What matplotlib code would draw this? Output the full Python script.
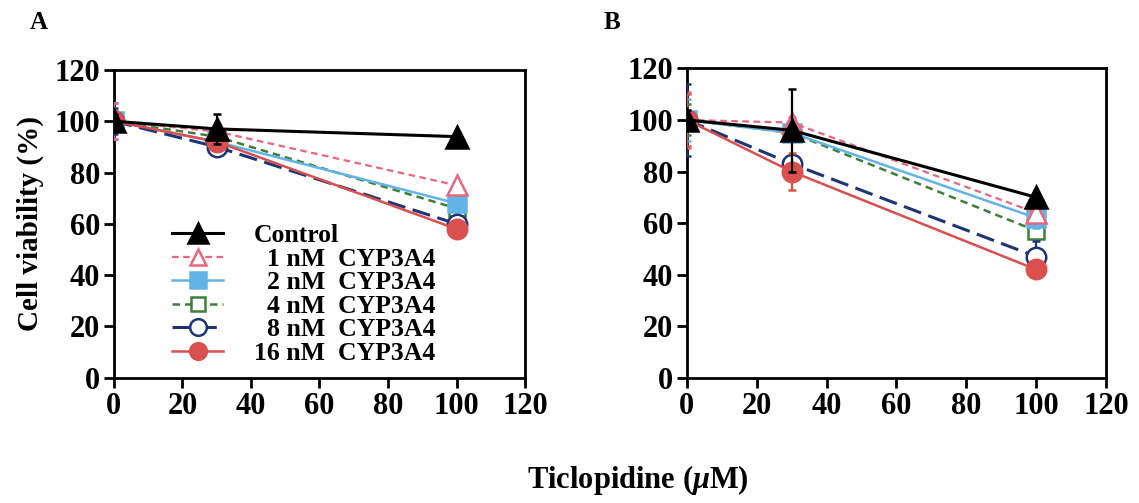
import matplotlib
matplotlib.use("Agg")
import matplotlib.pyplot as plt
from matplotlib.lines import Line2D

plt.rcParams['font.family'] = ['Liberation Serif', 'DejaVu Serif']
plt.rcParams['font.weight'] = 'bold'
plt.rcParams['mathtext.fontset'] = 'custom'
plt.rcParams['mathtext.rm'] = 'Liberation Serif:bold'
plt.rcParams['mathtext.it'] = 'Liberation Serif:italic:bold'

# ticlopidine concentrations (uM)
conc = [0, 30, 100]

labels = ["Control", "  1 nM  CYP3A4", "  2 nM  CYP3A4", "  4 nM  CYP3A4",
          "  8 nM  CYP3A4", "16 nM  CYP3A4"]

# panel A: viability (%) and SD
ctrl_a = [100, 97, 94]
n1_a = [100, 96, 75]
n2_a = [100, 92, 68]
n4_a = [100, 94, 66]
n8_a = [100, 90, 60]
n16_a = [100, 92, 58]
err_ctrl_a = [3, 6, 1]
err_n1_a = [7, 2, 1]
err_n2_a = [7, 4, 2]
err_n4_a = [4, 3, 1]
err_n8_a = [5, 3, 1]
err_n16_a = [4, 2, 1]

# panel B
ctrl_b = [100, 96, 70]
n1_b = [100, 99, 64]
n2_b = [100, 95, 62]
n4_b = [100, 95, 57]
n8_b = [100, 83, 47]
n16_b = [100, 80, 42]
err_ctrl_b = [4, 16, 1]
err_n1_b = [11, 2, 2]
err_n2_b = [8, 2, 4]
err_n4_b = [6, 2, 2]
err_n8_b = [14, 3, 6]
err_n16_b = [10, 7, 2]

styles = [
    dict(color='black', ls='-', marker='^', mfc='black', ms=16, lw=2.2),
    dict(color='#e8677f', ls=(0, (3, 2)), marker='^', mfc='white', ms=14, lw=1.6),
    dict(color='#62b4e6', ls='-', marker='s', mfc='#62b4e6', ms=13, lw=1.8),
    dict(color='#3d7f3a', ls=(0, (3, 2)), marker='s', mfc='white', ms=12, lw=1.8),
    dict(color='#1d3577', ls=(0, (6, 2.5)), marker='o', mfc='white', ms=14, lw=2.2),
    dict(color='#d9504e', ls='-', marker='o', mfc='#d9504e', ms=14, lw=1.8),
]
zorders = [10, 6, 5, 4, 7, 8]


def draw_panel(ax, series, errors, show_legend):
    # draw from the highest dose down so control sits on top
    for i in range(len(series) - 1, -1, -1):
        st = styles[i]
        ax.errorbar(conc, series[i], yerr=errors[i], color=st['color'], ls=st['ls'],
                    lw=st['lw'], marker=st['marker'], mfc=st['mfc'], mec=st['color'],
                    mew=1.8, ms=st['ms'], elinewidth=1.6, capsize=3, capthick=1.6,
                    zorder=zorders[i])
    ax.set_xlim(0, 120)
    ax.set_ylim(0, 120)
    ax.set_xticks(range(0, 121, 20))
    ax.set_yticks(range(0, 121, 20))
    ax.tick_params(direction='out', length=7, width=2, labelsize=22, pad=3)
    for s in ax.spines.values():
        s.set_linewidth(2)
    if show_legend:
        handles = []
        for st in styles:
            handles.append(Line2D([], [], color=st['color'], ls=st['ls'], lw=st['lw'],
                                  marker=st['marker'], mfc=st['mfc'], mec=st['color'],
                                  mew=1.8, ms=st['ms'] - 2))
        leg = ax.legend(handles, labels, loc='lower left', bbox_to_anchor=(0.11, 0.0),
                        frameon=False, fontsize=18.5, labelspacing=0.02,
                        handlelength=2.0, handletextpad=1.2, borderpad=0)
        for t in leg.get_texts():
            t.set_fontweight('bold')


fig = plt.figure(figsize=(11.39, 5.03), dpi=100)
ax_a = fig.add_axes([0.100, 0.249, 0.361, 0.612])
ax_b = fig.add_axes([0.603, 0.249, 0.368, 0.615])

draw_panel(ax_a, [ctrl_a, n1_a, n2_a, n4_a, n8_a, n16_a],
           [err_ctrl_a, err_n1_a, err_n2_a, err_n4_a, err_n8_a, err_n16_a], True)
draw_panel(ax_b, [ctrl_b, n1_b, n2_b, n4_b, n8_b, n16_b],
           [err_ctrl_b, err_n1_b, err_n2_b, err_n4_b, err_n8_b, err_n16_b], False)

fig.text(0.026, 0.955, "A", fontsize=18, fontweight='bold', ha='left', va='center')
fig.text(0.530, 0.955, "B", fontsize=18, fontweight='bold', ha='left', va='center')
fig.text(0.027, 0.555, "Cell viability (%)", fontsize=21, fontweight='bold',
         rotation=90, ha='center', va='center')
fig.text(0.56, 0.045, r"Ticlopidine ($\mu$M)", fontsize=22, fontweight='bold',
         ha='center', va='center')

fig.savefig("out.png", dpi=100)
